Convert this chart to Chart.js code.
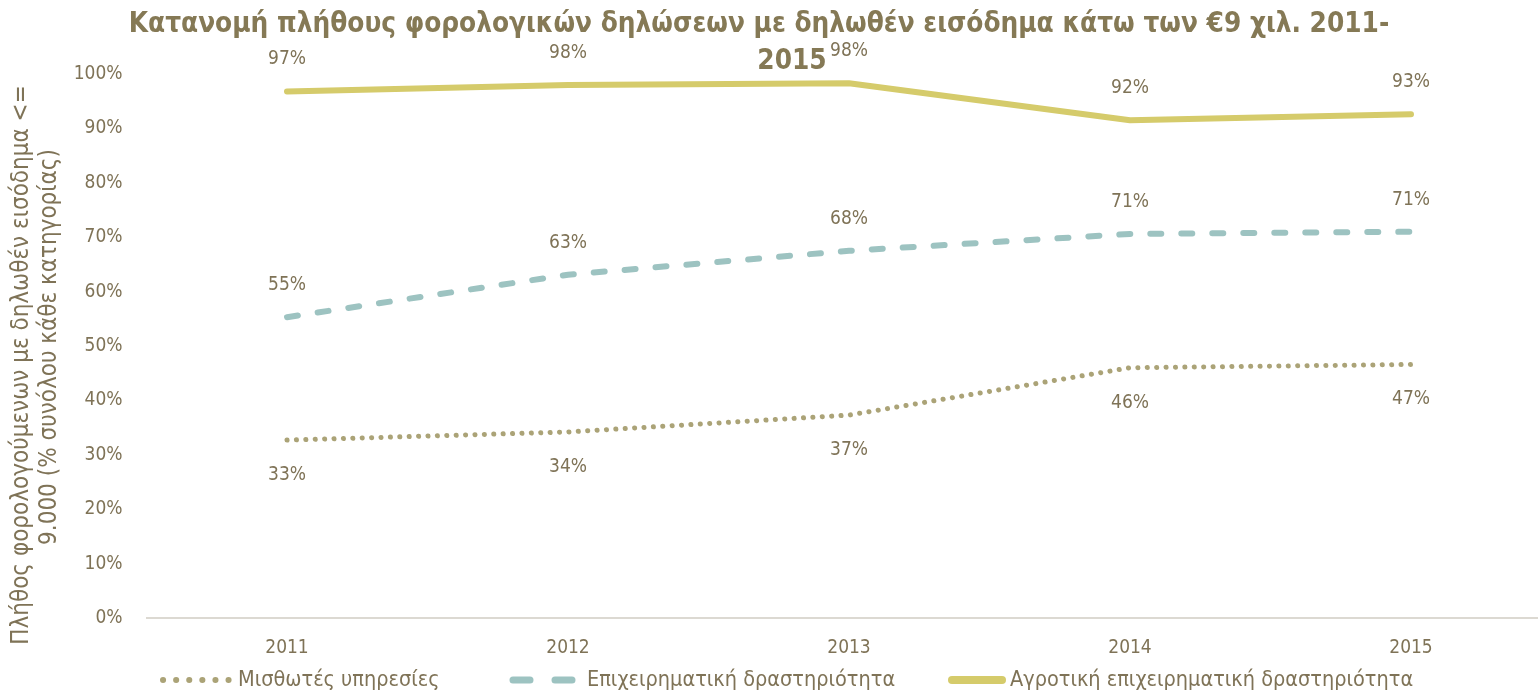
<!DOCTYPE html>
<html>
<head>
<meta charset="utf-8">
<script src="https://cdn.jsdelivr.net/npm/chart.js@4"></script>
<style>
  html, body { margin: 0; padding: 0; background: #fff; overflow: hidden; }
  #wrap { width: 1560px; height: 692px; }
</style>
</head>
<body>
<div id="wrap"><canvas id="chart" width="1560" height="692"></canvas></div>
<script>
// --- data ---
const years = ['2011', '2012', '2013', '2014', '2015'];
const misthotes = [32.7, 34.2, 37.3, 46.0, 46.6];
const epixeirimatiki = [55.3, 63.1, 67.5, 70.6, 71.0];
const agrotiki = [96.8, 98.0, 98.3, 91.5, 92.6];
const yTicks = [0, 10, 20, 30, 40, 50, 60, 70, 80, 90, 100];

const titleLines = ['Κατανομή πλήθους φορολογικών δηλώσεων με δηλωθέν εισόδημα κάτω των €9 χιλ. 2011-', '2015'];
const yTitleLines = ['Πλήθος φορολογούμενων με δηλωθέν εισόδημα <=', '9.000 (% συνόλου κάθε κατηγορίας)'];

const FONT = '"Liberation Sans Narrow", "DejaVu Sans Condensed", "Roboto", sans-serif';
const TXT = '#7f7357';

// legend sample styles (Excel draws them a bit bigger than the lines)
const legendDash = [[0.1, 13], [17, 25], []];
const legendWidth = [6, 7, 8];

// data labels, title, y-title and legend drawn on top
const extras = {
    id: 'extras',
    afterDatasetsDraw(chart) {
        const ctx = chart.ctx;
        ctx.save();
        // value labels
        ctx.font = '19px ' + FONT;
        ctx.fillStyle = TXT;
        ctx.textAlign = 'center';
        ctx.textBaseline = 'middle';
        chart.data.datasets.forEach((ds, i) => {
            const meta = chart.getDatasetMeta(i);
            meta.data.forEach((pt, j) => {
                const off = ds.labelPos === 'below' ? 35 : -32;
                ctx.fillText(Math.round(ds.data[j]) + '%', pt.x, pt.y + off);
            });
        });

        // title
        ctx.font = 'bold 27.7px ' + FONT;
        ctx.fillStyle = '#857955';
        ctx.fillText(titleLines[0], 759, 25);
        ctx.fillText(titleLines[1], 792, 62);

        // y axis title
        ctx.font = '24px ' + FONT;
        ctx.fillStyle = TXT;
        ctx.save();
        ctx.translate(22, 365);
        ctx.rotate(-Math.PI / 2);
        ctx.fillText(yTitleLines[0], 0, 0);
        ctx.fillText(yTitleLines[1], 18, 28);
        ctx.restore();

        // legend
        const items = [[163, 229, 238], [513, 575, 587], [952, 1002, 1010]];
        ctx.textAlign = 'left';
        chart.data.datasets.forEach((ds, i) => {
            const [x0, x1, tx] = items[i];
            const y = 680;
            ctx.save();
            ctx.strokeStyle = ds.borderColor;
            ctx.lineWidth = legendWidth[i];
            ctx.lineCap = 'round';
            ctx.setLineDash(legendDash[i]);
            ctx.beginPath();
            ctx.moveTo(x0, y);
            ctx.lineTo(x1, y);
            ctx.stroke();
            ctx.restore();
            ctx.fillStyle = TXT;
            ctx.font = '21.5px ' + FONT;
            ctx.fillText(ds.label, tx, y);
        });
        ctx.restore();
    }
};

new Chart(document.getElementById('chart'), {
    type: 'line',
    data: {
        labels: years,
        datasets: [
            {
                label: 'Μισθωτές υπηρεσίες',
                data: misthotes,
                borderColor: '#aba377',
                borderWidth: 5,
                borderDash: [0.1, 9.3],
                borderCapStyle: 'round',
                pointRadius: 0,
                labelPos: 'below'
            },
            {
                label: 'Επιχειρηματική δραστηριότητα',
                data: epixeirimatiki,
                borderColor: '#9dc3c1',
                borderWidth: 6,
                borderDash: [11, 20],
                borderCapStyle: 'round',
                pointRadius: 0,
                labelPos: 'above'
            },
            {
                label: 'Αγροτική επιχειρηματική δραστηριότητα',
                data: agrotiki,
                borderColor: '#d5cb6b',
                borderWidth: 6,
                borderCapStyle: 'round',
                borderJoinStyle: 'round',
                pointRadius: 0,
                labelPos: 'above'
            }
        ]
    },
    options: {
        responsive: false,
        animation: false,
        layout: { padding: { top: 74, left: 0, right: 8.5, bottom: 34 } },
        plugins: { legend: { display: false }, title: { display: false }, tooltip: { enabled: false } },
        scales: {
            x: {
                offset: true,
                grid: { display: false },
                border: { display: true, color: '#dcd9d2', width: 2 },
                ticks: { color: TXT, font: { family: FONT, size: 19 }, padding: 11, maxRotation: 0 },
                afterFit(scale) { scale.height = 40; }
            },
            y: {
                min: 0,
                max: 100,
                afterBuildTicks(scale) { scale.ticks = yTicks.map(v => ({ value: v })); },
                grid: { display: false },
                border: { display: false },
                ticks: { color: TXT, font: { family: FONT, size: 19 }, padding: 16, callback: v => v + '%' },
                afterFit(scale) { scale.width = 146.5; }
            }
        }
    },
    plugins: [extras]
});
</script>
</body>
</html>
